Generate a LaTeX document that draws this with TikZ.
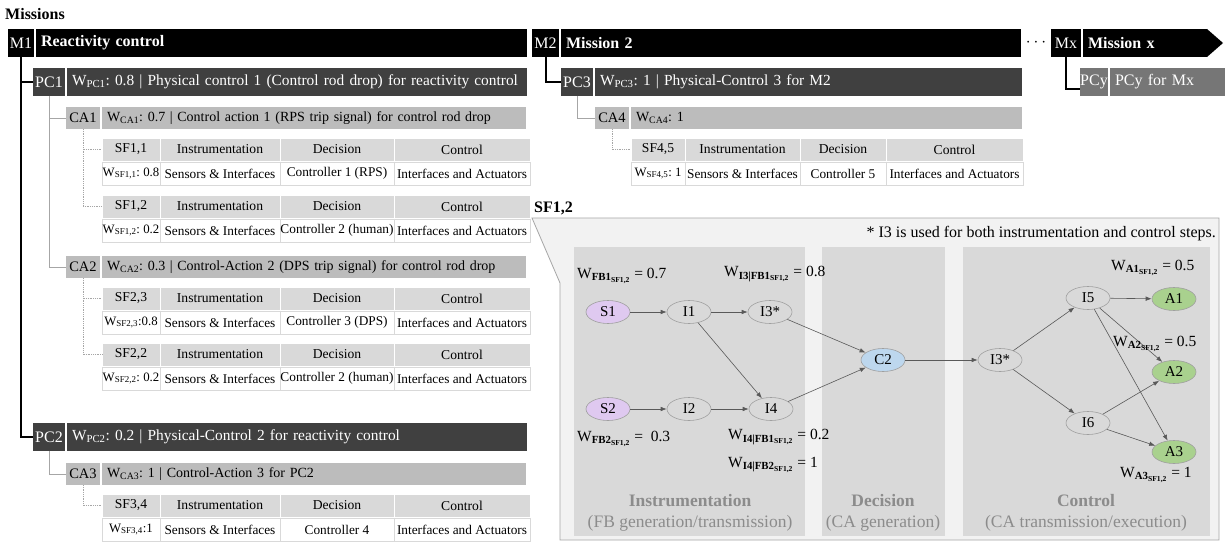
\documentclass[tikz,border=0pt]{standalone}
\usepackage{fontspec}
\setmainfont{Liberation Serif}
\usetikzlibrary{shapes.geometric,arrows.meta}
\frenchspacing
\definecolor{cPC}{HTML}{404040}
\definecolor{cCA}{HTML}{BCBCBC}
\definecolor{cPCy}{HTML}{767676}
\definecolor{cHead}{HTML}{D9D9D9}
\definecolor{cLine}{HTML}{A6A6A6}
\definecolor{cPanel}{HTML}{F2F2F2}
\definecolor{cCol}{HTML}{D9D9D9}
\definecolor{cColTxt}{HTML}{8C8C8C}
\definecolor{cS}{HTML}{DFC9F0}
\definecolor{cI}{HTML}{D9D9D9}
\definecolor{cC}{HTML}{BDD7EE}
\definecolor{cA}{HTML}{A9D18E}
\newcommand{\fsz}[1]{\fontsize{#1}{#1}\selectfont}
\newcommand{\setcols}[5]{\def\cA{#1}\def\cB{#2}\def\cC{#3}\def\cD{#4}\def\cE{#5}}
\newcommand{\sftab}[5]{%
  \node[hcell, minimum width=\cB-\cA] (#1h1) at (\cA,#2) {#3};
  \node[hcell, minimum width=\cC-\cB] (#1h2) at (\cB,#2) {Instrumentation};
  \node[hcell, minimum width=\cD-\cC] (#1h3) at (\cC,#2) {Decision};
  \node[hcell, minimum width=\cE-\cD] (#1h4) at (\cD,#2) {Control};
  \node[dcell, font=\fsz{12.8}, minimum width=\cB-\cA] (#1d1) at (\cA,#2+24) {#4};
  \node[dcell, minimum width=\cC-\cB] (#1d2) at (\cB,#2+24) {Sensors \& Interfaces};
  \node[dcell, minimum width=\cD-\cC] (#1d3) at (\cC,#2+24) {#5};
  \node[dcell, minimum width=\cE-\cD] (#1d4) at (\cD,#2+24) {Interfaces and Actuators};
}
\newcommand{\Wss}[2]{W\textsubscript{\textbf{#1}\textsubscript{\textbf{#2}}}}
\begin{document}
\begin{tikzpicture}[x=1pt,y=-1pt,
  base/.style={inner sep=0pt, outer sep=0pt, anchor=north west},
  mlab/.style={base, fill=black, text=white, font=\fsz{16}, minimum height=28pt},
  mtxt/.style={base, fill=black, text=white, font=\fsz{16}\bfseries, minimum height=28pt, inner xsep=5pt, align=left},
  pclab/.style={base, fill=cPC, text=white, font=\fsz{16}, minimum height=28pt},
  pctxt/.style={pclab, font=\fsz{15.4}, inner xsep=5pt, align=left},
  pcylab/.style={base, fill=cPCy, text=white, font=\fsz{16}, minimum height=28pt},
  pcytxt/.style={pcylab, inner xsep=5pt, align=left},
  calab/.style={base, fill=cCA, font=\fsz{14.5}, minimum height=22pt},
  catxt/.style={calab, font=\fsz{14}, inner xsep=5pt, align=left},
  hcell/.style={base, fill=cHead, draw=white, line width=0.6pt, minimum height=23pt, font=\fsz{13.6}},
  dcell/.style={base, fill=white, draw=cHead, line width=0.6pt, minimum height=23pt, font=\fsz{13.3}},
  mline/.style={draw=black, line width=2pt},
  pline/.style={draw=cLine, line width=1pt},
  dline/.style={draw=cLine, line width=0.8pt, densely dotted},
  colbox/.style={base, fill=cCol, minimum height=289pt},
  collab/.style={inner sep=0pt, text=cColTxt, font=\fontsize{17.5}{21}\selectfont, align=center},
  ell/.style={ellipse, draw=gray!75, line width=0.6pt, minimum width=44pt, minimum height=23pt, inner sep=0pt, font=\fsz{15}},
  edge/.style={draw=black!65, line width=0.6pt, -{Latex[length=6pt,width=4.5pt]}},
  wlab/.style={anchor=west, inner sep=0pt, font=\fsz{15.5}}
]
\useasboundingbox (0,0) rectangle (1227,543);
\fill[white] (0,0) rectangle (1227,543);

\node[anchor=west, inner sep=0pt, font=\fsz{16}\bfseries] (title) at (5,14) {Missions};

% ---- Mission 1 ----
\node[mlab, minimum width=26pt] (M1) at (8,29) {M1};
\node[mtxt, text width=481pt] (M1t) at (36,29) {Reactivity control};
\node[pclab, minimum width=32pt] (PC1) at (33,68) {PC1};
\node[pctxt, text width=450pt] (PC1t) at (67,68) {W\textsubscript{PC1}: 0.8 | Physical control 1 (Control rod drop) for reactivity control};
\node[calab, minimum width=34pt] (CA1) at (66,107) {CA1};
\node[catxt, text width=414pt] (CA1t) at (102,107) {W\textsubscript{CA1}: 0.7 | Control action 1 (RPS trip signal) for control rod drop};
\setcols{102}{160}{280}{394}{530}
\sftab{T11}{138}{SF1,1}{W\textsubscript{SF1,1}: 0.8}{Controller 1 (RPS)}
\sftab{T12}{195}{SF1,2}{W\textsubscript{SF1,2}: 0.2}{Controller 2 (human)}
\node[calab, minimum width=34pt] (CA2) at (66,256) {CA2};
\node[catxt, text width=414pt] (CA2t) at (102,256) {W\textsubscript{CA2}: 0.3 | Control-Action 2 (DPS trip signal) for control rod drop};
\sftab{T23}{287}{SF2,3}{W\textsubscript{SF2,3}:0.8}{Controller 3 (DPS)}
\sftab{T22}{343}{SF2,2}{W\textsubscript{SF2,2}: 0.2}{Controller 2 (human)}
\node[pclab, minimum width=32pt] (PC2) at (33,423) {PC2};
\node[pctxt, text width=450pt] (PC2t) at (67,423) {W\textsubscript{PC2}: 0.2 | Physical-Control 2 for reactivity control};
\node[calab, minimum width=34pt] (CA3) at (66,463) {CA3};
\node[catxt, text width=414pt] (CA3t) at (102,463) {W\textsubscript{CA3}: 1 | Control-Action 3 for PC2};
\sftab{T34}{494}{SF3,4}{W\textsubscript{SF3,4}:1}{Controller 4}

\draw[mline] (M1.south) |- (PC1.west);
\draw[mline] (M1.south) |- (PC2.west);
\draw[pline] (PC1.south) |- (CA1.west);
\draw[pline] (PC1.south) |- (CA2.west);
\draw[pline] (PC2.south) |- (CA3.west);
\draw[dline] (CA1.south) |- (T11h1.west);
\draw[dline] (CA1.south) |- (T12h1.west);
\draw[dline] (CA2.south) |- (T23h1.west);
\draw[dline] (CA2.south) |- (T22h1.west);
\draw[dline] (CA3.south) |- (T34h1.west);

% ---- Mission 2 ----
\node[mlab, minimum width=27pt] (M2) at (532,29) {M2};
\node[mtxt, text width=450pt] (M2t) at (561,29) {Mission 2};
\node[pclab, minimum width=32pt] (PC3) at (561,68) {PC3};
\node[pctxt, text width=417pt] (PC3t) at (595,68) {W\textsubscript{PC3}: 1 | Physical-Control 3 for M2};
\node[calab, minimum width=34pt] (CA4) at (595,107) {CA4};
\node[catxt, text width=381pt] (CA4t) at (631,107) {W\textsubscript{CA4}: 1};
\setcols{631}{685}{800}{886}{1023}
\sftab{T45}{138}{SF4,5}{W\textsubscript{SF4,5}: 1}{Controller 5}
\draw[mline] (M2.south) |- (PC3.west);
\draw[pline] (PC3.south) |- (CA4.west);
\draw[dline] (CA4.south) |- (T45h1.west);

% ---- Mission x ----
\node[inner sep=0pt, font=\fsz{16}] (dots) at (1036,43) {$\cdots$};
\node[mlab, minimum width=30pt] (Mx) at (1051,29) {Mx};
\node[mtxt, text width=114pt] (Mxt) at (1083,29) {Mission x};
\fill[black] (Mxt.north east) -- ([xshift=16pt]Mxt.east) -- (Mxt.south east) -- cycle;
\node[pcylab, minimum width=28pt] (PCy) at (1080,68) {PCy};
\node[pcytxt, text width=105pt] (PCyt) at (1110,68) {PCy for Mx};
\draw[mline] (Mx.south) |- ([yshift=-7pt]PCy.west);

% ---- SF1,2 detail panel ----
\node[anchor=west, inner sep=0pt, font=\fsz{16}\bfseries] (SFlab) at (534,208) {SF1,2};
\filldraw[fill=cPanel, draw=cLine, line width=0.8pt] (532,218) -- (1219,218) -- (1219,540) -- (560,540) -- (560,283) -- cycle;
\node[anchor=east, inner sep=0pt, font=\fsz{16}] (note) at (1216,234) {* I3 is used for both instrumentation and control steps.};
\node[colbox, minimum width=231pt] (colI) at (574,247) {};
\node[colbox, minimum width=123pt] (colD) at (822,247) {};
\node[colbox, minimum width=247pt] (colC) at (963,247) {};
\node[collab] (labI) at (690,512.5) {\textbf{Instrumentation}\\(FB generation/transmission)};
\node[collab] (labD) at (883,512.5) {\textbf{Decision}\\(CA generation)};
\node[collab] (labC) at (1086,512.5) {\textbf{Control}\\(CA transmission/execution)};

\node[ell, fill=cS] (S1) at (608,312) {S1};
\node[ell, fill=cI] (I1) at (689,312) {I1};
\node[ell, fill=cI] (I3a) at (770,312) {I3*};
\node[ell, fill=cS] (S2) at (608,409) {S2};
\node[ell, fill=cI] (I2) at (689,409) {I2};
\node[ell, fill=cI] (I4) at (771,409) {I4};
\node[ell, fill=cC] (C2) at (883,360) {C2};
\node[ell, fill=cI] (I3b) at (1000,360) {I3*};
\node[ell, fill=cI] (I5) at (1088,298) {I5};
\node[ell, fill=cI] (I6) at (1088,423) {I6};
\node[ell, fill=cA] (A1) at (1174,299) {A1};
\node[ell, fill=cA] (A2) at (1174,372) {A2};
\node[ell, fill=cA] (A3) at (1174,452) {A3};

\draw[edge] (S1) -- (I1);
\draw[edge] (I1) -- (I3a);
\draw[edge] (I1) -- (I4);
\draw[edge] (S2) -- (I2);
\draw[edge] (I2) -- (I4);
\draw[edge] (I3a) -- (C2);
\draw[edge] (I4) -- (C2);
\draw[edge] (C2) -- (I3b);
\draw[edge] (I3b) -- (I5);
\draw[edge] (I3b) -- (I6);
\draw[edge] (I5) -- (A1);
\draw[edge] (I5) -- (A2);
\draw[edge] (I5) -- (A3);
\draw[edge] (I6) -- (A2);
\draw[edge] (I6) -- (A3);

\node[wlab] (wFB1) at (577,276) {\Wss{FB1}{SF1,2} = 0.7};
\node[wlab] (wI3) at (724,274) {\Wss{I3|FB1}{SF1,2} = 0.8};
\node[wlab] (wFB2) at (577,439) {\Wss{FB2}{SF1,2} = \ 0.3};
\node[wlab] (wI4a) at (728,437) {\Wss{I4|FB1}{SF1,2} = 0.2};
\node[wlab] (wI4b) at (728,465) {\Wss{I4|FB2}{SF1,2} = 1};
\node[wlab] (wA1) at (1111,268) {\Wss{A1}{SF1,2} = 0.5};
\node[wlab] (wA2) at (1113,344) {\Wss{A2}{SF1,2} = 0.5};
\node[wlab] (wA3) at (1120,475) {\Wss{A3}{SF1,2} = 1};
\end{tikzpicture}
\end{document}
